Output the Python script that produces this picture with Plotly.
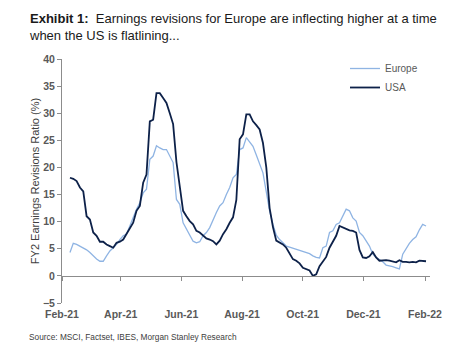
import pandas as pd
import plotly.graph_objects as go

# ~3.35-day observation grid, Feb-2021 to Feb-2022
dates = pd.date_range("2021-02-09", "2022-02-02", periods=108)

usa = [18.1, 17.9, 17.5, 16.3, 15.6, 11.0, 10.4, 8.0, 7.4, 6.3,
       6.3, 5.8, 5.5, 5.2, 6.1, 6.3, 6.7, 7.7, 8.6, 9.8,
       12.0, 12.9, 17.2, 18.7, 28.5, 28.8, 33.7, 33.7, 32.8, 31.9,
       30.0, 28.0, 21.0, 16.5, 12.0, 11.0, 10.1, 9.5, 8.3, 8.0,
       7.4, 6.9, 6.7, 6.4, 5.8, 6.5, 7.7, 8.6, 9.8, 10.8,
       14.0, 25.2, 26.1, 29.8, 29.8, 28.5, 27.8, 27.0, 24.5, 20.0,
       12.5, 9.0, 6.5, 6.2, 5.8, 5.2, 4.2, 3.1, 2.8, 2.3,
       1.5, 1.3, 1.0, 0.0, 0.3, 1.8, 2.7, 3.5, 5.2, 6.3,
       7.4, 9.2, 8.9, 8.7, 8.4, 8.3, 8.0, 4.8, 3.4, 3.3,
       3.6, 4.4, 3.4, 2.8, 2.9, 2.9, 2.8, 2.7, 2.5, 2.9,
       2.6, 2.6, 2.5, 2.6, 2.5, 2.8, 2.7, 2.7]

europe = [4.3, 6.0, 5.8, 5.5, 5.2, 4.8, 4.3, 3.6, 3.1, 2.7,
          2.7, 3.7, 4.6, 5.2, 5.8, 6.7, 7.4, 7.7, 9.2, 10.9,
          12.3, 13.5, 15.3, 16.0, 21.5, 22.1, 24.0, 23.6, 23.3, 23.3,
          22.1, 20.9, 14.1, 13.2, 9.8, 8.6, 7.4, 6.4, 6.1, 6.3,
          7.4, 8.0, 8.9, 10.4, 11.7, 12.9, 13.5, 15.0, 16.3, 18.1,
          18.7, 23.3, 23.6, 25.5, 24.8, 23.9, 22.3, 20.6, 19.0, 15.5,
          12.0, 9.5, 7.5, 6.7, 6.1, 5.5, 5.3, 5.1, 4.9, 4.8,
          4.6, 4.4, 4.1, 3.7, 3.4, 3.3, 5.2, 5.5, 8.0, 8.3,
          9.5, 9.8, 11.0, 12.3, 12.0, 10.7, 10.1, 8.0, 7.4, 6.4,
          5.5, 4.0, 3.4, 3.0, 2.6, 2.0, 1.9, 1.7, 1.5, 1.3,
          4.0, 5.0, 6.0, 6.7, 7.2, 8.5, 9.5, 9.2]

tick_dates = ["2021-02-01", "2021-04-01", "2021-06-01", "2021-08-01",
              "2021-10-01", "2021-12-01", "2022-02-01"]
tick_text = ["Feb-21", "Apr-21", "Jun-21", "Aug-21", "Oct-21", "Dec-21", "Feb-22"]

y_min, y_max = -5, 40
x_range = ["2021-02-01", "2022-02-06"]

GRAY = "#8c8c8c"
TXT = "#595959"
FONT = "Liberation Sans, Arial, sans-serif"
PLOT_W, PLOT_H = 368, 244

fig = go.Figure()
fig.add_trace(go.Scatter(x=dates, y=europe, name="Europe", mode="lines",
                         line=dict(color="#8fb4e3", width=1.3)))
fig.add_trace(go.Scatter(x=dates, y=usa, name="USA", mode="lines",
                         line=dict(color="#0d2149", width=1.8)))
# invisible trace to activate the zero-crossing date axis
fig.add_trace(go.Scatter(x=[dates[0]], y=[None], xaxis="x2", showlegend=False,
                         hoverinfo="skip"))

fig.update_layout(
    width=470, height=354,
    margin=dict(l=62, r=40, t=59, b=51),
    paper_bgcolor="white", plot_bgcolor="white",
    font=dict(family=FONT, color=TXT),
    showlegend=True,
    legend=dict(x=(345 - 62) / PLOT_W, y=1.0 + 5 / PLOT_H,
                xanchor="left", yanchor="top",
                bgcolor="rgba(0,0,0,0)", font=dict(size=10, color=TXT),
                itemwidth=30, tracegroupgap=0),
    xaxis=dict(
        type="date", range=x_range,
        tickvals=tick_dates, ticktext=tick_text,
        showline=False, showgrid=False, zeroline=False, ticks="",
        tickfont=dict(size=10.5, color=TXT, weight="bold"),
        ticklabelstandoff=3,
    ),
    xaxis2=dict(
        type="date", range=x_range, overlaying="x", anchor="free",
        position=(0 - y_min) / (y_max - y_min),
        tickvals=tick_dates, showticklabels=False,
        showline=True, linecolor=GRAY, linewidth=1,
        ticks="outside", ticklen=4, tickcolor=GRAY,
        showgrid=False, zeroline=False,
    ),
    yaxis=dict(
        range=[y_min, y_max], dtick=5,
        showline=True, linecolor=GRAY, linewidth=1,
        ticks="outside", ticklen=4, tickcolor=GRAY,
        showgrid=False, zeroline=False,
        tickfont=dict(size=10.5, color=TXT, weight="bold"),
        title=dict(text="FY2 Earnings Revisions Ratio (%)",
                   font=dict(size=11, color="#404040"), standoff=1),
    ),
)

fig.add_annotation(
    text="<b>Exhibit 1:</b>&nbsp; Earnings revisions for Europe are inflecting higher at a time<br>when the US is flatlining...",
    xref="paper", yref="paper", x=(27 - 62) / PLOT_W, y=1.0 + 50 / PLOT_H,
    xanchor="left", yanchor="top", align="left", showarrow=False,
    font=dict(size=13, color="#1a1a1a"),
)

fig.add_annotation(
    text="Source: MSCI, Factset, IBES, Morgan Stanley Research",
    xref="paper", yref="paper", x=(27 - 62) / PLOT_W, y=-27 / PLOT_H,
    xanchor="left", yanchor="top", showarrow=False,
    font=dict(size=8.3, color="#404040"),
)

fig.write_html("out.html")
